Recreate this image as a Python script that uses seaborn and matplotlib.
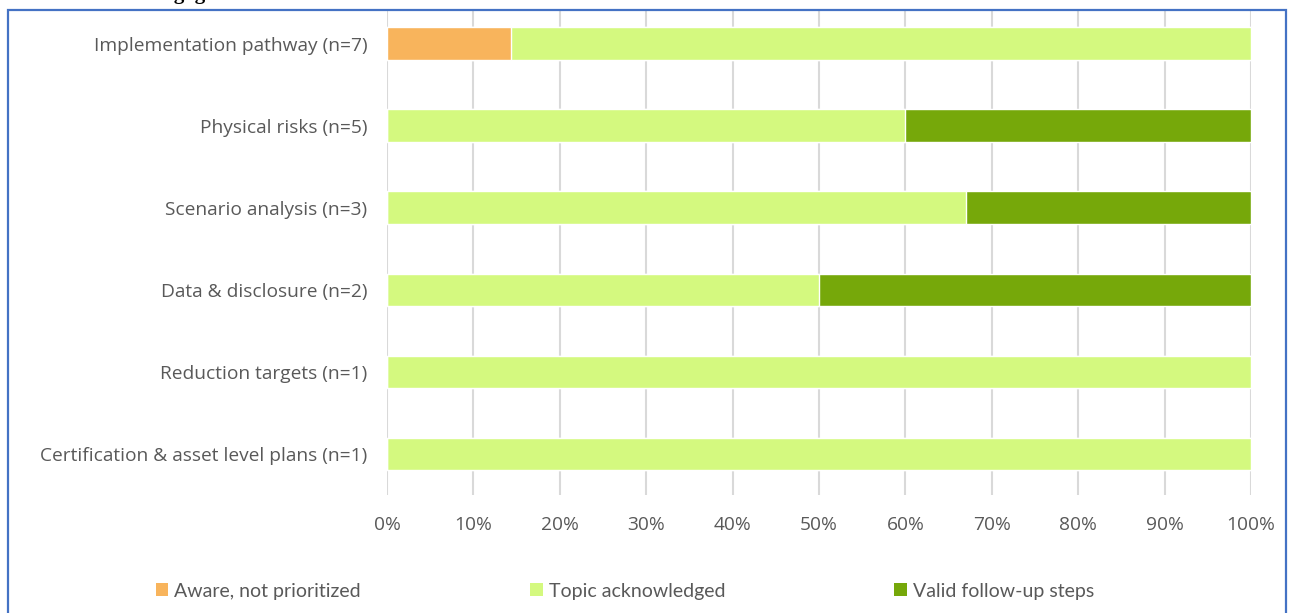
import matplotlib
matplotlib.use('Agg')
import matplotlib.pyplot as plt
from matplotlib.patches import Patch, Rectangle
import numpy as np
import pandas as pd
import seaborn as sns

categories = [
    'Implementation pathway (n=7)',
    'Physical risks (n=5)',
    'Scenario analysis (n=3)',
    'Data & disclosure (n=2)',
    'Reduction targets (n=1)',
    'Certification & asset level plans (n=1)',
]
aware = [14.3, 0, 0, 0, 0, 0]
acknowledged = [85.7, 60, 67, 50, 100, 100]
valid = [0, 40, 33, 50, 0, 0]

series_names = ['Aware, not prioritized', 'Topic acknowledged', 'Valid follow-up steps']
colors = ['#F8B45C', '#D4F97F', '#76A80A']

df = pd.DataFrame({'category': categories, 'aware': aware,
                   'acknowledged': acknowledged, 'valid': valid})
df['cum_aware'] = df['aware']
df['cum_ack'] = df['aware'] + df['acknowledged']
df['cum_valid'] = df['cum_ack'] + df['valid']

sns.set_style('white')
plt.rcParams['font.family'] = ['Open Sans', 'DejaVu Sans']
text_color = '#595959'

fig = plt.figure(figsize=(12.91, 6.13), dpi=100)
ax = fig.add_axes([387 / 1291, 1 - 495 / 613, (1251 - 387) / 1291, (495 - 11) / 613])

# stacked bars: draw cumulative totals from the back to the front
for col, color in zip(['cum_valid', 'cum_ack', 'cum_aware'], colors[::-1]):
    sns.barplot(data=df, x=col, y='category', color=color, width=0.4,
                saturation=1, ax=ax, zorder=2)

ax.set_xlim(0, 100)
ax.set_ylim(5.5, -0.4)
ax.set_xticks(np.arange(0, 101, 10))
ax.set_xticklabels([f'{v}%' for v in range(0, 101, 10)])
ax.set_xlabel('')
ax.set_ylabel('')
ax.grid(axis='x', color='#D9D9D9', linewidth=1.5, zorder=0)
ax.set_axisbelow(True)
for s in ax.spines.values():
    s.set_visible(False)
ax.tick_params(axis='both', length=0, labelsize=13.8, labelcolor=text_color)
ax.tick_params(axis='y', pad=14)
ax.tick_params(axis='x', pad=15)

handles = [Patch(facecolor=c, edgecolor='none') for c in colors]
fig.legend(handles, series_names, loc='center', bbox_to_anchor=(0.484, 1 - 591 / 613),
           ncol=3, frameon=False, handlelength=0.65, handleheight=0.65, handletextpad=0.3,
           columnspacing=8.7, prop={'family': 'Lato', 'size': 14}, labelcolor=text_color)

# outer chart border (bottom edge is cut off)
fig.patches.append(Rectangle((8 / 1291, -0.05), (1286 - 8) / 1291, 1.05 - 10 / 613,
                             transform=fig.transFigure, fill=False,
                             edgecolor='#4472C4', linewidth=1.6))

# title, mostly cropped off the top
fig.text(80 / 1291, 1 + 1 / 613, 'Phase 1 engagement results', ha='left', va='baseline',
         family='Liberation Serif', fontweight='bold', fontsize=15, color='black')

fig.savefig('out.png', dpi=100)
